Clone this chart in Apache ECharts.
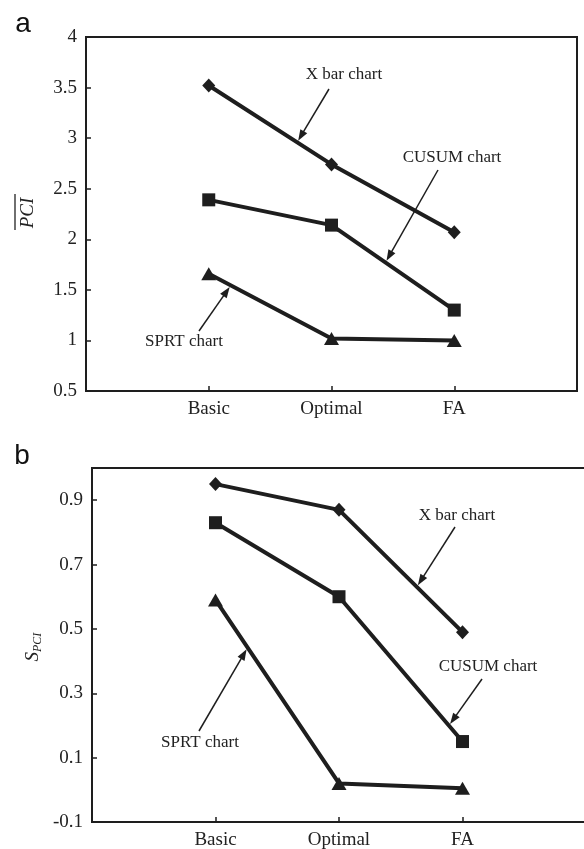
<!DOCTYPE html>
<html>
<head>
<meta charset="utf-8">
<script src="https://cdn.jsdelivr.net/npm/echarts@6/dist/echarts.min.js"></script>
<style>
  html, body { margin: 0; padding: 0; background: #fff; }
  #main { width: 584px; height: 849px; }
</style>
</head>
<body>
<div id="main"></div>
<script>
// categories and values
var categories = ['Basic', 'Optimal', 'FA'];

// panel a : mean PCI
var xbarMean = [3.52, 2.74, 2.07];
var cusumMean = [2.39, 2.14, 1.30];
var sprtMean = [1.66, 1.02, 1.00];

// panel b : S_PCI
var xbarSd = [0.95, 0.87, 0.49];
var cusumSd = [0.83, 0.60, 0.15];
var sprtSd = [0.59, 0.02, 0.005];

var sdTicks = [-0.1, 0.1, 0.3, 0.5, 0.7, 0.9];

var INK = '#1e1e1e';
var SERIF = '"Liberation Serif", "DejaVu Serif", serif';

window.onload = function () {
  var chart = echarts.init(document.getElementById('main'));

  function pts(vals) {
    return vals.map(function (v, i) { return [i + 1, v]; });
  }

  function xAxisOf(g, max) {
    return {
      gridIndex: g,
      type: 'value',
      min: 0,
      max: max,
      interval: 1,
      splitLine: { show: false },
      axisLine: { onZero: false, lineStyle: { color: INK, width: 2 } },
      axisTick: { inside: true, length: 5, lineStyle: { color: INK, width: 1.5 } },
      axisLabel: {
        margin: 9,
        color: '#222',
        fontFamily: SERIF,
        fontSize: 19,
        formatter: function (v) { return categories[v - 1] || ''; }
      }
    };
  }

  function lineSeries(g, vals, symbol, size) {
    return {
      type: 'line',
      xAxisIndex: g,
      yAxisIndex: g,
      data: pts(vals),
      symbol: symbol,
      symbolSize: size,
      showAllSymbol: true,
      lineStyle: { color: INK, width: 4 },
      itemStyle: { color: INK },
      z: 3
    };
  }

  var yLabel = { margin: 9, color: '#222', fontFamily: SERIF, fontSize: 19 };

  var option = {
    animation: false,
    backgroundColor: '#fff',
    grid: [
      { left: 86, top: 37, width: 491, height: 354, show: true, borderColor: INK, borderWidth: 2, outerBoundsMode: 'none', containLabel: false },
      { left: 92, top: 468, width: 500, height: 354, show: true, borderColor: INK, borderWidth: 2, outerBoundsMode: 'none', containLabel: false }
    ],
    xAxis: [xAxisOf(0, 4), xAxisOf(1, 500 / 123.5)],
    yAxis: [
      {
        gridIndex: 0,
        type: 'value',
        min: 0.5,
        max: 4,
        interval: 0.5,
        splitLine: { show: false },
        axisLine: { show: true, onZero: false, lineStyle: { color: INK, width: 2 } },
        axisTick: { show: true, inside: true, length: 5, lineStyle: { color: INK, width: 1.5 } },
        axisLabel: yLabel
      },
      {
        gridIndex: 1,
        type: 'value',
        min: -0.1,
        max: 1.0,
        splitLine: { show: false },
        axisLine: { show: true, onZero: false, lineStyle: { color: INK, width: 2 } },
        axisTick: { show: true, inside: true, length: 5, customValues: sdTicks, lineStyle: { color: INK, width: 1.5 } },
        axisLabel: Object.assign({ customValues: sdTicks }, yLabel)
      }
    ],
    series: [
      lineSeries(0, xbarMean, 'diamond', [13, 14]),
      lineSeries(0, cusumMean, 'rect', 13),
      lineSeries(0, sprtMean, 'triangle', [15, 13]),
      lineSeries(1, xbarSd, 'diamond', [13, 14]),
      lineSeries(1, cusumSd, 'rect', 13),
      lineSeries(1, sprtSd, 'triangle', [15, 13])
    ]
  };

  chart.setOption(option);

  // annotation arrows: the head sits on a segment of the series
  function onSeg(g, vals, seg, t) {
    var x = seg + 1 + t;
    var y = vals[seg] + t * (vals[seg + 1] - vals[seg]);
    return chart.convertToPixel({ gridIndex: g }, [x, y]);
  }

  function arrow(head, tail) {
    var dx = head[0] - tail[0], dy = head[1] - tail[1];
    var len = Math.sqrt(dx * dx + dy * dy);
    var ux = dx / len, uy = dy / len;
    var nx = -uy, ny = ux;
    var tip = [head[0] - ux * 2, head[1] - uy * 2];
    var L = 11, W = 8;
    var bx = tip[0] - ux * L, by = tip[1] - uy * L;
    return [
      {
        type: 'line',
        shape: { x1: tail[0], y1: tail[1], x2: bx + ux * 2, y2: by + uy * 2 },
        style: { stroke: INK, lineWidth: 1.5 },
        z: 10
      },
      {
        type: 'polygon',
        shape: { points: [tip, [bx + nx * W / 2, by + ny * W / 2], [bx - nx * W / 2, by - ny * W / 2]] },
        style: { fill: INK },
        z: 10
      }
    ];
  }

  function note(txt, x, y) {
    return {
      type: 'text',
      x: x,
      y: y,
      style: { text: txt, font: '17px ' + SERIF, fill: '#222', align: 'center', verticalAlign: 'middle' },
      z: 10
    };
  }

  var notes = [
    { text: 'X bar chart', g: 0, vals: xbarMean, seg: 0, t: 0.72, tail: [329, 89], pos: [344, 75] },
    { text: 'CUSUM chart', g: 0, vals: cusumMean, seg: 1, t: 0.44, tail: [438, 170], pos: [452, 158] },
    { text: 'SPRT chart', g: 0, vals: sprtMean, seg: 0, t: 0.18, tail: [199, 331], pos: [184, 342] },
    { text: 'X bar chart', g: 1, vals: xbarSd, seg: 1, t: 0.63, tail: [455, 527], pos: [457, 516] },
    { text: 'CUSUM chart', g: 1, vals: cusumSd, seg: 1, t: 0.89, tail: [482, 679], pos: [488, 667] },
    { text: 'SPRT chart', g: 1, vals: sprtSd, seg: 0, t: 0.26, tail: [199, 731], pos: [200, 743] }
  ];

  var graphics = [];
  notes.forEach(function (n) {
    var head = onSeg(n.g, n.vals, n.seg, n.t);
    graphics = graphics.concat(arrow(head, n.tail));
    graphics.push(note(n.text, n.pos[0], n.pos[1]));
  });

  // panel letters
  graphics.push({ type: 'text', x: 23, y: 24, style: { text: 'a', font: '28px "Liberation Sans", Arial, sans-serif', fill: '#111', align: 'center', verticalAlign: 'middle' } });
  graphics.push({ type: 'text', x: 22, y: 456, style: { text: 'b', font: '28px "Liberation Sans", Arial, sans-serif', fill: '#111', align: 'center', verticalAlign: 'middle' } });

  // y axis names: PCI with overline, S with subscript PCI
  graphics.push({
    type: 'group', x: 28, y: 213, rotation: Math.PI / 2,
    children: [
      { type: 'text', x: 0, y: 0, style: { text: 'PCI', font: 'italic 19px ' + SERIF, fill: '#222', align: 'center', verticalAlign: 'middle' } },
      { type: 'line', shape: { x1: -17, y1: -13, x2: 19, y2: -13 }, style: { stroke: '#222', lineWidth: 1.3 } }
    ]
  });
  graphics.push({
    type: 'group', x: 33, y: 642, rotation: Math.PI / 2,
    children: [
      { type: 'text', x: -10, y: 0, style: { text: 'S', font: 'italic 19px ' + SERIF, fill: '#222', align: 'right', verticalAlign: 'middle' } },
      { type: 'text', x: -10, y: 5, style: { text: 'PCI', font: 'italic 12px ' + SERIF, fill: '#222', align: 'left', verticalAlign: 'middle' } }
    ]
  });

  chart.setOption({ graphic: graphics });

  var resizeTimer = null;
  window.onresize = function () {
    if (resizeTimer) {
      clearTimeout(resizeTimer);
    }
    resizeTimer = setTimeout(function () {
      chart.resize();
    }, 200);
  };
};
</script>
</body>
</html>
